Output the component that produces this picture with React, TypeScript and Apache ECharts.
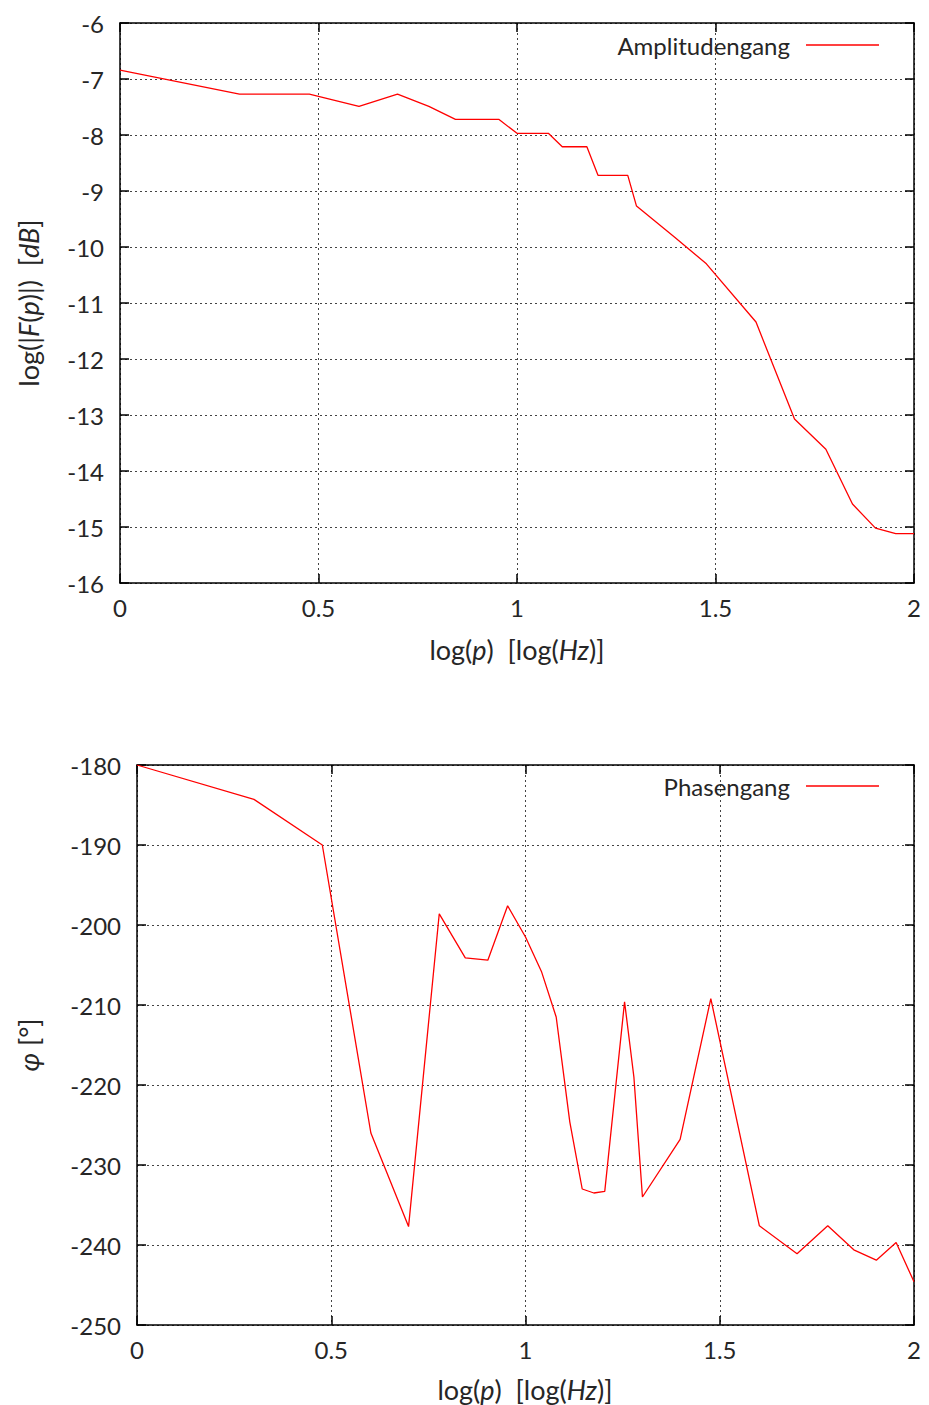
import React, { useEffect, useRef } from "react";
import * as echarts from "echarts";

// Amplitude response: log10 frequency vs. log magnitude
const ampX = [0, 0.301, 0.477, 0.602, 0.699, 0.778, 0.845, 0.903, 0.954, 1, 1.041, 1.079, 1.114, 1.146, 1.176, 1.204, 1.23, 1.255, 1.279, 1.301, 1.398, 1.477, 1.602, 1.699, 1.778, 1.845, 1.903, 1.954, 2];
const ampY = [-6.84, -7.27, -7.27, -7.49, -7.27, -7.49, -7.72, -7.72, -7.72, -7.97, -7.97, -7.97, -8.21, -8.21, -8.21, -8.72, -8.72, -8.72, -8.72, -9.27, -9.83, -10.3, -11.34, -13.07, -13.61, -14.59, -15.02, -15.12, -15.12];

// Phase response: log10 frequency vs. phase in degrees
const phaseX = [0, 0.301, 0.477, 0.602, 0.699, 0.778, 0.845, 0.903, 0.954, 1, 1.041, 1.079, 1.114, 1.146, 1.176, 1.204, 1.255, 1.279, 1.301, 1.398, 1.477, 1.602, 1.699, 1.778, 1.845, 1.903, 1.954, 2];
const phaseY = [-180, -184.3, -190, -226, -237.7, -198.6, -204.1, -204.4, -197.6, -201.5, -205.8, -211.5, -224.6, -233, -233.5, -233.3, -209.6, -219, -234, -226.8, -209.2, -237.6, -241.1, -237.6, -240.6, -241.9, -239.7, -244.6];

const ampName = "Amplitudengang";
const phaseName = "Phasengang";

const FONT = "Lato, 'DejaVu Sans', sans-serif";
const TEXT = "#262626";
const FS = 24;
const TFS = 27;

const frameLine = { color: "#000", width: 1.5 };
const gridLine = { color: "#444", width: 1, type: [2, 3] as any };

function xAxes(gridIndex: number) {
  const base = {
    gridIndex,
    type: "value",
    min: 0,
    max: 2,
    interval: 0.5,
    axisLine: { show: true, onZero: false, lineStyle: frameLine },
    axisTick: { show: true, inside: true, length: 9, lineStyle: frameLine },
  };
  return [
    {
      ...base,
      position: "bottom",
      axisLabel: { fontSize: FS, color: TEXT, fontFamily: FONT, margin: 12 },
      splitLine: { show: true, lineStyle: gridLine },
    },
    { ...base, position: "top", axisLabel: { show: false }, splitLine: { show: false } },
  ];
}

function yAxes(gridIndex: number, min: number, max: number, interval: number) {
  const base = {
    gridIndex,
    type: "value",
    min,
    max,
    interval,
    axisLine: { show: true, onZero: false, lineStyle: frameLine },
    axisTick: { show: true, inside: true, length: 9, lineStyle: frameLine },
  };
  return [
    {
      ...base,
      position: "left",
      axisLabel: {
        fontSize: FS,
        color: TEXT,
        fontFamily: FONT,
        margin: 16,
        padding: [0, 0, 7, 0],
      },
      splitLine: { show: true, lineStyle: gridLine },
    },
    { ...base, position: "right", axisLabel: { show: false }, splitLine: { show: false } },
  ];
}

const rich = {
  n: { fontSize: TFS, fontFamily: FONT, color: TEXT },
  i: { fontSize: TFS, fontFamily: FONT, fontStyle: "italic", color: TEXT },
};

function title(x: number, y: number, text: string, rotated: boolean) {
  return {
    type: "text",
    x,
    y,
    rotation: rotated ? Math.PI / 2 : 0,
    style: {
      text,
      rich,
      fill: TEXT,
      font: `${TFS}px ${FONT}`,
      textAlign: "center",
      textVerticalAlign: "middle",
    },
  };
}

export default function App() {
  const ref = useRef<HTMLDivElement>(null);

  useEffect(() => {
    if (!ref.current) return;
    const chart = echarts.init(ref.current, null, { renderer: "svg" });

    const legendBase = {
      right: 45,
      orient: "horizontal",
      align: "right",
      icon: "rect",
      itemWidth: 73,
      itemHeight: 1.5,
      textStyle: { fontSize: FS, color: TEXT, fontFamily: FONT, padding: [0, 11, 0, 0] },
    };

    chart.setOption({
      animation: false,
      backgroundColor: "#fff",
      textStyle: { fontFamily: FONT },
      grid: [
        { left: 120, top: 23, width: 794, height: 560 },
        { left: 137, top: 765, width: 777, height: 560 },
      ],
      xAxis: [...xAxes(0), ...xAxes(1)],
      yAxis: [...yAxes(0, -16, -6, 1), ...yAxes(1, -250, -180, 10)],
      legend: [
        { ...legendBase, top: 28, data: [ampName] },
        { ...legendBase, top: 769, data: [phaseName] },
      ],
      series: [
        {
          name: ampName,
          type: "line",
          xAxisIndex: 0,
          yAxisIndex: 0,
          data: ampX.map((x, k) => [x, ampY[k]]),
          symbol: "none",
          lineStyle: { color: "#ff0000", width: 1.3 },
          itemStyle: { color: "#ff0000" },
        },
        {
          name: phaseName,
          type: "line",
          xAxisIndex: 2,
          yAxisIndex: 2,
          data: phaseX.map((x, k) => [x, phaseY[k]]),
          symbol: "none",
          lineStyle: { color: "#ff0000", width: 1.3 },
          itemStyle: { color: "#ff0000" },
        },
      ],
      graphic: [
        title(28, 303, "{n|log(|}{i|F}{n|(}{i|p}{n|)|)  [}{i|dB}{n|]}", true),
        title(517, 649, "{n|log(}{i|p}{n|)  [log(}{i|Hz}{n|)]}", false),
        title(28, 1045, "{i|φ} {n|[°]}", true),
        title(525, 1389, "{n|log(}{i|p}{n|)  [log(}{i|Hz}{n|)]}", false),
      ],
    });

    return () => chart.dispose();
  }, []);

  return (
    <div
      ref={ref}
      style={{ position: "fixed", left: 0, top: 0, width: 929, height: 1405, background: "#fff" }}
    />
  );
}
